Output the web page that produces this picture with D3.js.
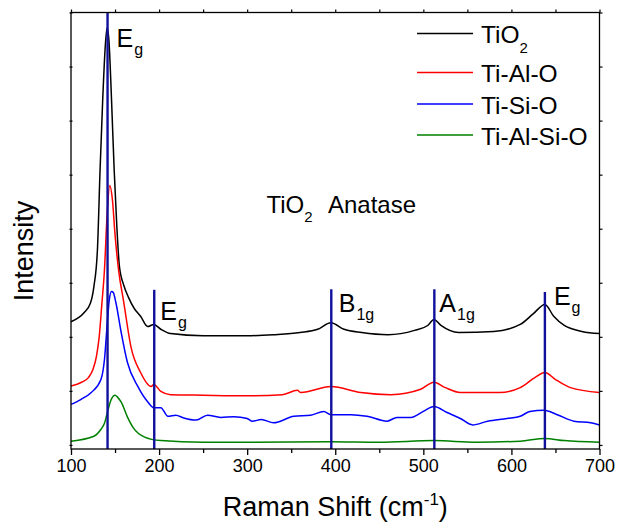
<!DOCTYPE html>
<html>
<head>
<meta charset="utf-8">
<script src="https://cdn.jsdelivr.net/npm/d3@7"></script>
<style>
  html, body { margin: 0; padding: 0; background: #fff; }
  svg { display: block; font-family: "Liberation Sans", Arial, sans-serif; }
</style>
</head>
<body>
<svg id="chart" width="617" height="524"></svg>
<script>
// ---------------- data ----------------
const seriesNames = ["TiO2", "Ti-Al-O", "Ti-Si-O", "Ti-Al-Si-O"];

const tio2X = [100,115,122,126,130,133,136,139,141,143,146,149,152,155,160,165,172,179,187,194,202,213,250,300,330,360,380,395,410,430,460,490,505,512,520,540,580,610,625,638,648,660,680,700];
const tio2Y = [2.28,2.45,2.62,2.93,3.61,5.09,6.39,7.40,7.72,7.50,6.39,5.09,4.05,3.30,2.95,2.74,2.52,2.38,2.19,2.23,2.14,2.06,2.02,2.02,2.04,2.08,2.14,2.26,2.14,2.08,2.04,2.12,2.21,2.32,2.21,2.08,2.10,2.23,2.43,2.60,2.38,2.21,2.10,2.06];

const tialX = [100,112,120,125,129,132,135,138,141,144,147,150,154,160,168,179,191,194,202,213,250,300,340,357,361,395,429,463,497,512,525,542,587,610,627,638,650,667,700];
const tialY = [1.09,1.16,1.25,1.40,1.65,2.00,2.60,3.24,4.26,4.80,4.54,3.89,3.24,2.63,1.82,1.34,1.08,1.12,0.99,0.93,0.92,0.91,0.93,1.01,0.97,1.08,0.97,0.93,1.03,1.16,1.06,0.97,0.97,1.06,1.25,1.34,1.21,1.06,0.97];

const tisiX = [100,111,123,134,138,141.5,143.5,146,148,151,157,164,176,187,194,202,210,219,228,242,255,270,285,300,306,316,330,353,372,387,395,418,436,459,470,486,500,512,527,542,556,573,595,610,621,637,652,671,690,700];
const tisiY = [0.75,0.84,0.97,1.21,1.58,2.32,2.69,2.84,2.82,2.63,2.08,1.53,1.08,0.80,0.69,0.69,0.53,0.55,0.50,0.46,0.55,0.51,0.52,0.49,0.44,0.47,0.41,0.53,0.55,0.62,0.56,0.56,0.53,0.44,0.51,0.51,0.62,0.71,0.60,0.49,0.37,0.44,0.49,0.53,0.62,0.64,0.56,0.44,0.41,0.37];

const tialsiX = [100,126,134,138,141.6,145.4,150,153,157,164,171,183,202,250,300,395,450,512,560,610,638,660,700];
const tialsiY = [0.07,0.16,0.29,0.40,0.62,0.83,0.92,0.88,0.79,0.52,0.31,0.15,0.08,0.05,0.05,0.06,0.05,0.08,0.05,0.07,0.12,0.08,0.05];

// Raman modes of anatase
const modePositions = [141.5, 194.5, 395.5, 512.5, 638];
const modeTops      = [8.0, 2.87, 2.88, 2.88, 2.83];
const modeMain      = ["E", "E", "B", "A", "E"];
const modeSub       = ["g", "g", "1g", "1g", "g"];

const xTicks = [100, 200, 300, 400, 500, 600, 700];
const xMinorTicks = [150, 250, 350, 450, 550, 650];
const yTicks = [0, 1, 2, 3, 4, 5, 6, 7, 8];

// ---------------- layout / style ----------------
const colors = ["#000000", "#ff0000", "#0000ff", "#008000"];
const modeColor = "#10109c";
const L = 71, R = 599.5, T = 12.5, B = 449;
const font = '"Liberation Sans", Arial, sans-serif';

const svg = d3.select("#chart");
const x = d3.scaleLinear().domain([100, 700]).range([L, R]);
const y = d3.scaleLinear().domain([-0.075, 8]).range([B, T]);

const series = [
  { name: seriesNames[0], xs: tio2X,   ys: tio2Y },
  { name: seriesNames[1], xs: tialX,   ys: tialY },
  { name: seriesNames[2], xs: tisiX,   ys: tisiY },
  { name: seriesNames[3], xs: tialsiX, ys: tialsiY }
];

const line = d3.line().x(d => x(d[0])).y(d => y(d[1])).curve(d3.curveMonotoneX);

const plot = svg.append("g");
series.forEach((s, i) => {
  plot.append("path")
    .datum(s.xs.map((v, k) => [v, s.ys[k]]))
    .attr("fill", "none")
    .attr("stroke", colors[i])
    .attr("stroke-width", 1.5)
    .attr("stroke-linejoin", "round")
    .attr("d", line);
});

// mode lines
modePositions.forEach((m, i) => {
  plot.append("line")
    .attr("x1", x(m)).attr("x2", x(m))
    .attr("y1", y(modeTops[i])).attr("y2", B)
    .attr("stroke", modeColor).attr("stroke-width", 2.4);
});

// mode labels (pixel offsets relative to each line)
const labelDx = [9, 6, 7.5, 5, 9];
const labelBaseline = [47, 320, 312, 311.5, 305];
modePositions.forEach((m, i) => {
  const t = svg.append("text")
    .attr("x", x(m) + labelDx[i])
    .attr("y", labelBaseline[i])
    .attr("font-size", 25)
    .attr("fill", "#000");
  t.append("tspan").text(modeMain[i]);
  t.append("tspan").attr("font-size", 16).attr("dy", 8).attr("dx", 1).text(modeSub[i]);
});

// frame
svg.append("rect")
  .attr("x", L).attr("y", T).attr("width", R - L).attr("height", B - T)
  .attr("fill", "none").attr("stroke", "#000").attr("stroke-width", 1.3);

// axes
const axBottom = svg.append("g").attr("transform", `translate(0,${B})`)
  .call(d3.axisBottom(x).tickValues(xTicks).tickSize(6).tickPadding(4).tickFormat(d3.format("d")));
axBottom.select(".domain").remove();
axBottom.selectAll("text").attr("font-size", 18).attr("font-family", font).attr("fill", "#000");
axBottom.selectAll("line").attr("stroke-width", 1.3);

const axBottomMinor = svg.append("g").attr("transform", `translate(0,${B})`)
  .call(d3.axisBottom(x).tickValues(xMinorTicks).tickSize(4).tickFormat(""));
axBottomMinor.select(".domain").remove();
axBottomMinor.selectAll("line").attr("stroke-width", 1.3);

const axTop = svg.append("g").attr("transform", `translate(0,${T})`)
  .call(d3.axisTop(x).tickValues(xTicks.concat(xMinorTicks)).tickSize(3).tickFormat(""));
axTop.select(".domain").remove();
axTop.selectAll("line").attr("stroke-width", 1.2);

const axLeft = svg.append("g").attr("transform", `translate(${L + 1.5},0)`)
  .call(d3.axisLeft(y).tickValues(yTicks).tickSize(3).tickFormat(""));
axLeft.select(".domain").remove();
axLeft.selectAll("line").attr("stroke-width", 1.2);

const axRight = svg.append("g").attr("transform", `translate(${R},0)`)
  .call(d3.axisRight(y).tickValues(yTicks).tickSize(3).tickFormat(""));
axRight.select(".domain").remove();
axRight.selectAll("line").attr("stroke-width", 1.2);

// axis titles
const xt = svg.append("text")
  .attr("x", (L + R) / 2).attr("y", 516)
  .attr("text-anchor", "middle").attr("font-size", 27).attr("fill", "#000");
xt.append("tspan").text("Raman Shift (cm");
xt.append("tspan").attr("font-size", 17).attr("dy", -11).text("-1");
xt.append("tspan").attr("dy", 11).text(")");

svg.append("text")
  .attr("transform", "translate(33,251) rotate(-90)")
  .attr("text-anchor", "middle").attr("font-size", 27).attr("fill", "#000")
  .text("Intensity");

// helper: chemical formula with subscript digits
function formula(sel, str, subSize, subDy) {
  const parts = str.match(/(\d+|\D+)/g);
  let shifted = false;
  parts.forEach(p => {
    if (/^\d+$/.test(p)) {
      sel.append("tspan").attr("font-size", subSize).attr("dy", subDy).text(p);
      shifted = true;
    } else {
      const ts = sel.append("tspan").text(p);
      if (shifted) { ts.attr("dy", -subDy); shifted = false; }
    }
  });
}

// annotation
const ann = svg.append("text").attr("x", 266.5).attr("y", 212.5).attr("font-size", 24).attr("fill", "#000");
formula(ann, "TiO2", 15, 9.5);
svg.append("text").attr("x", 328).attr("y", 212.5).attr("font-size", 24).attr("fill", "#000").text("Anatase");

// legend
const legendY = [33.5, 72.5, 104, 135];
series.forEach((s, i) => {
  svg.append("line")
    .attr("x1", 417).attr("x2", 473)
    .attr("y1", legendY[i]).attr("y2", legendY[i])
    .attr("stroke", colors[i]).attr("stroke-width", 1.5);
  const t = svg.append("text")
    .attr("x", 481).attr("y", legendY[i] + 9.5)
    .attr("font-size", 24.5).attr("fill", "#000");
  formula(t, s.name, 15, 9.5);
});
</script>
</body>
</html>
